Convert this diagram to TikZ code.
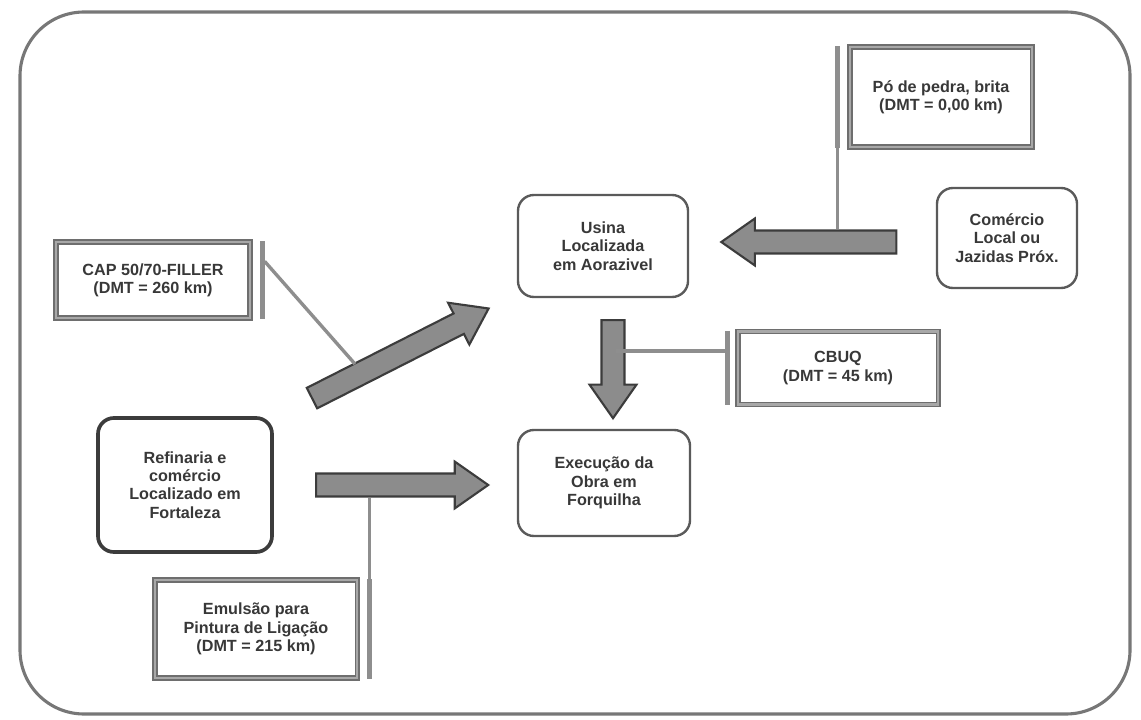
\documentclass[tikz,border=0pt]{standalone}
\usepackage{fontspec}
\setmainfont{Liberation Sans}
\usetikzlibrary{calc,positioning}
\usetikzlibrary{shapes.arrows}
\definecolor{framegray}{HTML}{777777}
\definecolor{boxgray}{HTML}{5A5A5A}
\definecolor{textgray}{HTML}{383838}
\definecolor{infogray}{HTML}{6E6E6E}
\definecolor{infolight}{HTML}{A8A8A8}
\definecolor{linkgray}{HTML}{8E8E8E}
\definecolor{arrowgray}{HTML}{8C8C8C}
\definecolor{arrowdark}{HTML}{3C3C3C}
\tikzstyle{entry}=[fill=white, align=center, text=textgray, font=\fontsize{11.5}{13}\selectfont\bfseries, inner sep=2pt]
\tikzstyle{place}=[entry, draw=boxgray, line width=1.7pt, rounded corners=0.4cm]
\tikzstyle{origin}=[place, draw=arrowdark, line width=2.6pt]
\tikzstyle{info}=[entry, draw=infogray, line width=0.9pt, double=infolight, double distance=1.8pt]
\tikzstyle{bar}=[draw=linkgray, line width=3.2pt]
\tikzstyle{link}=[draw=linkgray, line width=2.4pt]
\tikzstyle{flow}=[single arrow, draw=arrowdark, fill=arrowgray, line width=1.5pt, inner xsep=0pt, inner ysep=0.26cm, single arrow head extend=0.3cm, single arrow tip angle=70]

\begin{document}
\begin{tikzpicture}[x=0.025cm, y=-0.025cm]
\useasboundingbox [fill=white] (0,0) rectangle (1141,720);
\draw [framegray, line width=2.2pt, rounded corners=1.6cm] (20,12) rectangle (1130,714);

\node (poBox) [info, minimum width=4.55cm, minimum height=2.5cm] at (941,97) {Pó de pedra, brita\\(DMT = 0,00 km)};
\node (comBox) [place, minimum width=3.5cm, minimum height=2.5cm] at (1007,238) {Comércio\\Local ou\\Jazidas Próx.};
\node (usinaBox) [place, minimum width=4.25cm, minimum height=2.55cm] at (603,246) {Usina\\Localizada\\em Aorazivel};
\node (capBox) [info, minimum width=4.85cm, minimum height=1.9cm] at (153,280) {CAP 50/70-FILLER\\(DMT = 260 km)};
\node (cbuqBox) [info, minimum width=5cm, minimum height=1.82cm] at (838,368) {CBUQ\\(DMT = 45 km)};
\node (execBox) [place, minimum width=4.3cm, minimum height=2.65cm] at (604,483) {Execução da\\Obra em\\Forquilha};
\node (refBox) [origin, minimum width=4.35cm, minimum height=3.35cm] at (185,485) {Refinaria e\\comércio\\Localizado em\\Fortaleza};
\node (emBox) [info, minimum width=5.05cm, minimum height=2.45cm] at (256,629) {Emulsão para\\Pintura de Ligação\\(DMT = 215 km)};

\node (arrLeft) [flow, minimum height=4.375cm, rotate=180] at (817,242) {};
\node (arrDown) [flow, minimum height=2.45cm, rotate=-90] at (613,361) {};
\node (arrDiag) [flow, minimum height=4.95cm, rotate=26.9] at (393,357) {};
\node (arrRight) [flow, minimum height=4.3cm] at (394,485) {};

\coordinate (capEnd) at (355,364);

\draw [bar] ([xshift=-0.3cm]poBox.north west) -- ([xshift=-0.3cm]poBox.south west);
\draw [link] ([xshift=-0.3cm]poBox.south west) -- ([xshift=-0.3cm]poBox.south west |- arrLeft.south);

\draw [bar] ([xshift=0.3cm]capBox.north east) -- ([xshift=0.3cm]capBox.south east);
\draw [link] ([xshift=0.35cm, yshift=-0.5cm]capBox.north east) -- (capEnd);

\draw [bar] ([xshift=-0.25cm]cbuqBox.north west) -- ([xshift=-0.25cm]cbuqBox.south west);
\draw [link] ([xshift=-0.25cm, yshift=-0.5cm]cbuqBox.north west) -- ([xshift=-0.25cm, yshift=-0.5cm]cbuqBox.north west -| arrDown.north);

\draw [bar] ([xshift=0.3cm]emBox.north east) -- ([xshift=0.3cm]emBox.south east);
\draw [link] ([xshift=0.3cm]emBox.north east) -- ([xshift=0.3cm]emBox.north east |- arrRight.south);
\end{tikzpicture}
\end{document}
